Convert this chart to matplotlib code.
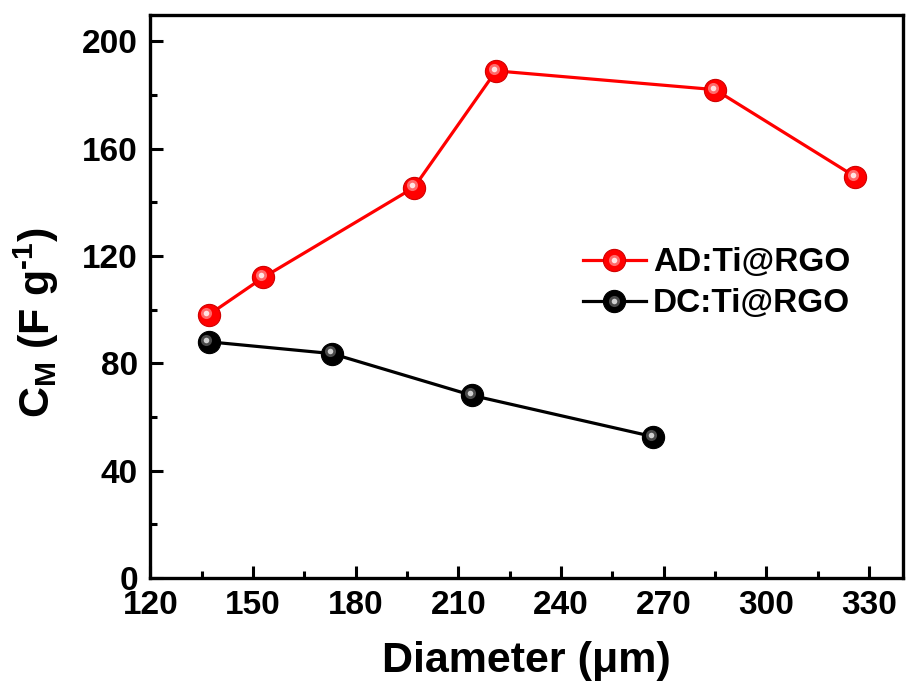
import matplotlib
matplotlib.use("Agg")
import matplotlib.pyplot as plt
import matplotlib.transforms as mtransforms
from matplotlib.legend_handler import HandlerTuple

# values
ad_diam = [137, 153, 197, 221, 285, 326]
ad_cap = [98, 112, 145.5, 189, 182, 149.5]
dc_diam = [137, 173, 214, 267]
dc_cap = [88, 83.6, 68, 52.6]
x_ticks = [120, 150, 180, 210, 240, 270, 300, 330]
y_ticks = [0, 40, 80, 120, 160, 200]

plt.rcParams['font.family'] = 'Liberation Sans'
plt.rcParams['font.weight'] = 'bold'
plt.rcParams['mathtext.fontset'] = 'custom'
plt.rcParams['mathtext.rm'] = 'Liberation Sans:bold'
plt.rcParams['mathtext.it'] = 'Liberation Sans:bold'
plt.rcParams['mathtext.bf'] = 'Liberation Sans:bold'


# draw a series with a shaded "ball" marker, returns handles for legend
def ball_series(ax, x, y, color, edge, mid, shine):
    base, = ax.plot(x, y, '-o', color=color, lw=2.3, ms=16,
                    mfc=color, mec=edge, mew=0.8, zorder=3)
    shift = mtransforms.offset_copy(ax.transData, fig=ax.figure, x=-1.5, y=1.5, units='points')
    glow, = ax.plot(x, y, 'o', ms=8, mfc=mid, mec='none', zorder=4, transform=shift)
    spot, = ax.plot(x, y, 'o', ms=4, mfc=shine, mec='none', zorder=5, transform=shift)
    return (base, glow, spot)


fig, ax = plt.subplots(figsize=(9.06, 6.92), dpi=100)
fig.subplots_adjust(left=0.166, right=0.997, bottom=0.165, top=0.979)

red = ball_series(ax, ad_diam, ad_cap, '#ff0000', '#d00000', '#ff6a6a', '#ffe4e4')
blk = ball_series(ax, dc_diam, dc_cap, '#000000', '#000000', '#4a4a4a', '#d0d0d0')

ax.set_xlim(120, 340)
ax.set_ylim(0, 210)
ax.set_xticks(x_ticks)
ax.set_yticks(y_ticks)
ax.set_xticks(range(135, 340, 30), minor=True)
ax.set_yticks(range(20, 210, 40), minor=True)
ax.tick_params(which='major', direction='in', length=9, width=2.2, labelsize=24, pad=9)
ax.tick_params(which='minor', direction='in', length=5, width=2.2)
for sp in ax.spines.values():
    sp.set_linewidth(2.4)

ax.set_xlabel('Diameter (μm)', fontsize=31, fontweight='bold', labelpad=14)
ax.set_ylabel(r'C$_{\rm M}$ (F g$^{\text{-1}}$)', fontsize=31, fontweight='bold')
ax.yaxis.set_label_coords(-0.119, 0.454)

ax.legend([red, blk], ['AD:Ti@RGO', 'DC:Ti@RGO'],
          handler_map={tuple: HandlerTuple(ndivide=1, pad=0)},
          loc='upper left', bbox_to_anchor=(0.574, 0.587), frameon=False,
          borderpad=0, borderaxespad=0,
          fontsize=24, handlelength=1.9, handletextpad=0.22, labelspacing=0.3)

fig.savefig('out.png', dpi=100)
